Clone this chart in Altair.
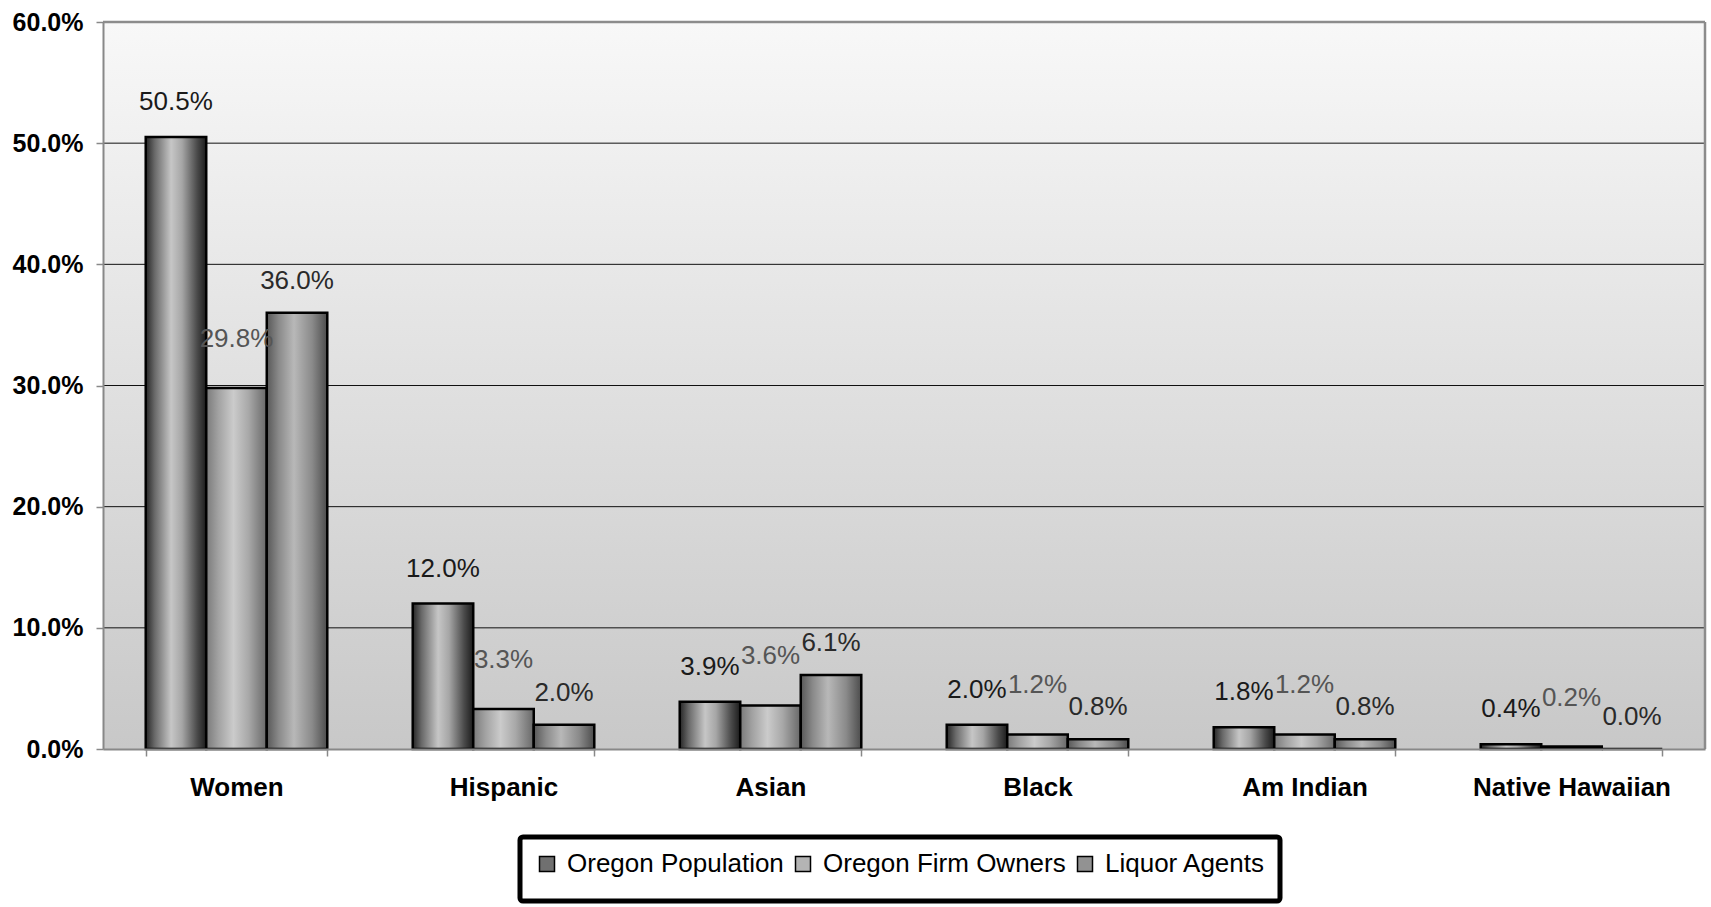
import altair as alt
import pandas as pd

categories = ["Women", "Hispanic", "Asian", "Black", "Am Indian", "Native Hawaiian"]
series = ["Oregon Population", "Oregon Firm Owners", "Liquor Agents"]
oregon_population = [0.505, 0.120, 0.039, 0.020, 0.018, 0.004]
oregon_firm_owners = [0.298, 0.033, 0.036, 0.012, 0.012, 0.002]
liquor_agents = [0.360, 0.020, 0.061, 0.008, 0.008, 0.000]
yticks = [0.0, 0.1, 0.2, 0.3, 0.4, 0.5, 0.6]

rows = []
for s, vals in zip(series, [oregon_population, oregon_firm_owners, liquor_agents]):
    for c, v in zip(categories, vals):
        rows.append({"category": c, "series": s, "value": v})
df = pd.DataFrame(rows)

W, H = 1602, 727
FONT = "Liberation Sans"


def hgrad(stops):
    return alt.Gradient(gradient="linear", x1=0, x2=1, y1=0, y2=0,
                        stops=[alt.GradientStop(offset=o, color=c) for o, c in stops])


bar_fills = {
    "Oregon Population": hgrad([(0, "#262626"), (0.15, "#6a6a6a"), (0.42, "#c6c6c6"),
                                (0.6, "#a6a6a6"), (0.85, "#4a4a4a"), (1, "#1c1c1c")]),
    "Oregon Firm Owners": hgrad([(0, "#7a7a7a"), (0.2, "#a2a2a2"), (0.45, "#cbcbcb"),
                                 (0.7, "#a8a8a8"), (1, "#686868")]),
    "Liquor Agents": hgrad([(0, "#585858"), (0.2, "#8a8a8a"), (0.45, "#b8b8b8"),
                            (0.75, "#8a8a8a"), (1, "#4c4c4c")]),
}
label_colors = {"Oregon Population": "#1a1a1a", "Oregon Firm Owners": "#555555",
                "Liquor Agents": "#2a2a2a"}
label_dy = {"Oregon Population": -35, "Oregon Firm Owners": -49, "Liquor Agents": -32}
legend_colors = ["#707070", "#b4b4b4", "#929292"]

x_enc = alt.X("category:N", sort=categories,
              scale=alt.Scale(paddingInner=0.32, paddingOuter=0.16),
              axis=alt.Axis(title=None, labelAngle=0, labelFontSize=26, labelFontWeight="bold",
                            labelColor="black", labelFont=FONT, labelPadding=18, tickSize=7,
                            tickColor="#888888", tickWidth=1.5, domainColor="#888888",
                            domainWidth=2, tickBand="extent", zindex=1, grid=False,
                            labelLimit=400))
xo_enc = alt.XOffset("series:N", sort=series,
                     scale=alt.Scale(domain=series, paddingInner=0, paddingOuter=0))
y_scale = alt.Scale(domain=[0, 0.6], nice=False)
y_axis = alt.Axis(title=None, values=yticks, format=".1%", labelFontSize=25,
                  labelFontWeight="bold", labelColor="black", labelFont=FONT, labelPadding=13,
                  tickSize=7, tickColor="#888888", tickWidth=1.5, domainColor="#888888",
                  domainWidth=2, grid=False, zindex=1)

one = pd.DataFrame({"k": [0]})

bg = alt.Chart(one).mark_rect(
    fill=alt.Gradient(gradient="linear", x1=0, x2=0, y1=0, y2=1,
                      stops=[alt.GradientStop(offset=0, color="#f8f8f8"),
                             alt.GradientStop(offset=1, color="#c8c8c8")])
).encode(x=alt.value(0), x2=alt.value(W), y=alt.value(0), y2=alt.value(H))

grid_df = pd.DataFrame({"t": yticks[1:-1]})
grid = alt.Chart(grid_df).mark_rule(color="#111111", strokeWidth=1).encode(
    y=alt.Y("t:Q", scale=y_scale, axis=y_axis))
top_df = pd.DataFrame({"t": yticks[-1:]})
top_line = alt.Chart(top_df).mark_rule(color="#8c8c8c", strokeWidth=2.5).encode(
    y=alt.Y("t:Q", scale=y_scale))
right_line = alt.Chart(one).mark_rule(color="#8c8c8c", strokeWidth=2.5).encode(
    x=alt.value(W), y=alt.value(0), y2=alt.value(H))

base = alt.Chart(df)
bars = []
texts = []
for s in series:
    sub = base.transform_filter(alt.datum.series == s)
    bars.append(sub.mark_bar(fill=bar_fills[s], stroke="black", strokeWidth=2.5).encode(
        x=x_enc, xOffset=xo_enc, y=alt.Y("value:Q", scale=y_scale, axis=y_axis)))
    texts.append(sub.mark_text(fontSize=26, font=FONT, color=label_colors[s],
                               baseline="middle", dy=label_dy[s]).encode(
        x=x_enc, xOffset=xo_enc, y=alt.Y("value:Q", scale=y_scale),
        text=alt.Text("value:Q", format=".1%")))

legend_layer = base.mark_bar(strokeWidth=0).encode(
    x=x_enc, xOffset=xo_enc, y=alt.datum(0, scale=y_scale),
    color=alt.Color("series:N", sort=series,
                    scale=alt.Scale(domain=series, range=legend_colors),
                    legend=alt.Legend(orient="none", legendX=417, legendY=815,
                                      direction="horizontal", title=" ",
                                      titleOrient="bottom", titleFontSize=8,
                                      titlePadding=2, symbolType="square",
                                      symbolSize=225, symbolStrokeColor="black",
                                      symbolStrokeWidth=1.5, labelFontSize=26,
                                      labelFont=FONT, labelColor="black",
                                      labelOffset=7, columnPadding=6, padding=14,
                                      labelLimit=500, strokeColor="black",
                                      cornerRadius=3, fillColor="white")))

chart = alt.layer(bg, grid, top_line, right_line, *bars, legend_layer, *texts).properties(
    width=W, height=H,
    padding={"left": 103, "top": 22, "right": 6, "bottom": 158},
    autosize=alt.AutoSizeParams(type="none"),
).configure_view(stroke=None).configure(font=FONT, background="white").configure_legend(
    strokeWidth=5)

chart.save("out.html", embed_options={"renderer": "svg", "actions": False})
